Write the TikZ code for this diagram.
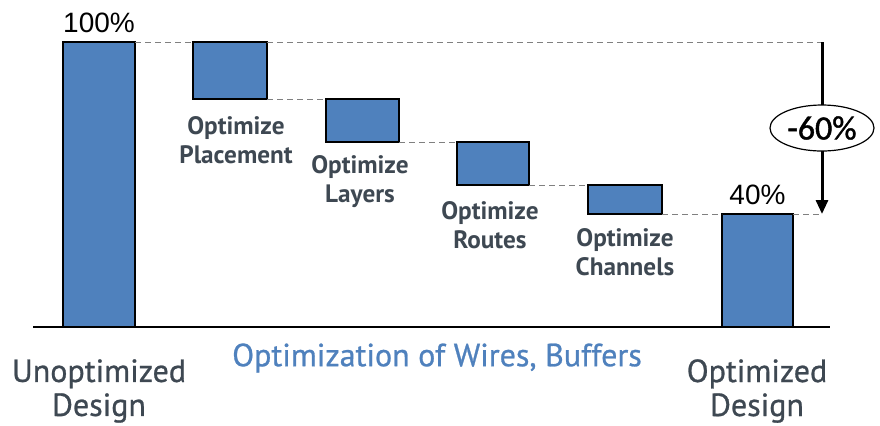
\documentclass[tikz,border=0pt]{standalone}
\usepackage{fontspec}
\setmainfont{PT Sans}
\newfontfamily\numfont{Liberation Sans}
\newfontfamily\calfont[FakeBold=1.2]{Carlito}
\newfontfamily\medfont[FakeBold=0.8]{PT Sans}
\usetikzlibrary{arrows.meta,shapes.geometric,fit}

\definecolor{barblue}{HTML}{4F81BD}
\definecolor{labgray}{HTML}{3E4852}

\tikzset{
  bar/.style={draw=black,thick,fill=barblue,inner sep=0pt,outer sep=0pt},
  guide/.style={gray,dash pattern=on 3pt off 2pt,line width=.5pt},
  steplab/.style={labgray,font=\bfseries\fontsize{12.6}{14.5}\selectfont,align=center},
  endlab/.style={labgray,font=\medfont\fontsize{16}{17}\selectfont,align=center},
  pct/.style={font=\numfont\fontsize{14}{16}\selectfont}
}

\begin{document}
\begin{tikzpicture}[x=.5pt,y=-.5pt,>={Triangle[length=7pt,width=6pt]}]
  \useasboundingbox (0,0) rectangle (880,425);

  % bars
  \foreach \name/\xa/\ya/\xb/\yb in {b1/63/42/135/327,b2/193/42/267/99,
      b3/326/99/399/142,b4/457/142/529/185,b5/588/185/662/214,b6/722/214/793/327}
    \node[bar,fit={(\xa,\ya) (\xb,\yb)}] (\name) {};

  \draw[thick] (33,327) -- (830,327);

  % guides between bars
  \coordinate (top) at (822,42);
  \coordinate (bot) at (822,214);
  \draw[guide] (b1.north east) -- (b2.north west);
  \draw[guide] (b2.north east) -- (top);
  \draw[guide] (b2.south east) -- (b3.north west);
  \draw[guide] (b3.south east) -- (b4.north west);
  \draw[guide] (b4.south east) -- (b5.north west);
  \draw[guide] (b5.south east) -- (b6.north west);
  \draw[guide] (b6.north east) -- (bot);

  % total saving
  \draw[->,line width=1.5pt] (top) -- node[draw,ellipse,fill=white,line width=.6pt,
    minimum width=52pt,minimum height=23pt,inner sep=1pt,
    font=\calfont\fontsize{17}{19}\selectfont] (saving) {-60\%} (bot);

  % labels
  \node[pct,above=1pt] (p100) at (b1.north) {100\%};
  \node[pct,above=1pt] (p40) at (b6.north) {40\%};
  \node[steplab] (l2) at (236,140) {Optimize\\Placement};
  \node[steplab] (l3) at (360,182) {Optimize\\Layers};
  \node[steplab] (l4) at (490,225) {Optimize\\Routes};
  \node[steplab] (l5) at (625,252) {Optimize\\Channels};
  \node[endlab] (l1) at (99,391) {Unoptimized\\Design};
  \node[endlab] (l6) at (757,391) {Optimized\\Design};
  \node[barblue,font=\medfont\fontsize{16}{18}\selectfont] (mid) at (437,358) {Optimization of Wires, Buffers};
\end{tikzpicture}
\end{document}
